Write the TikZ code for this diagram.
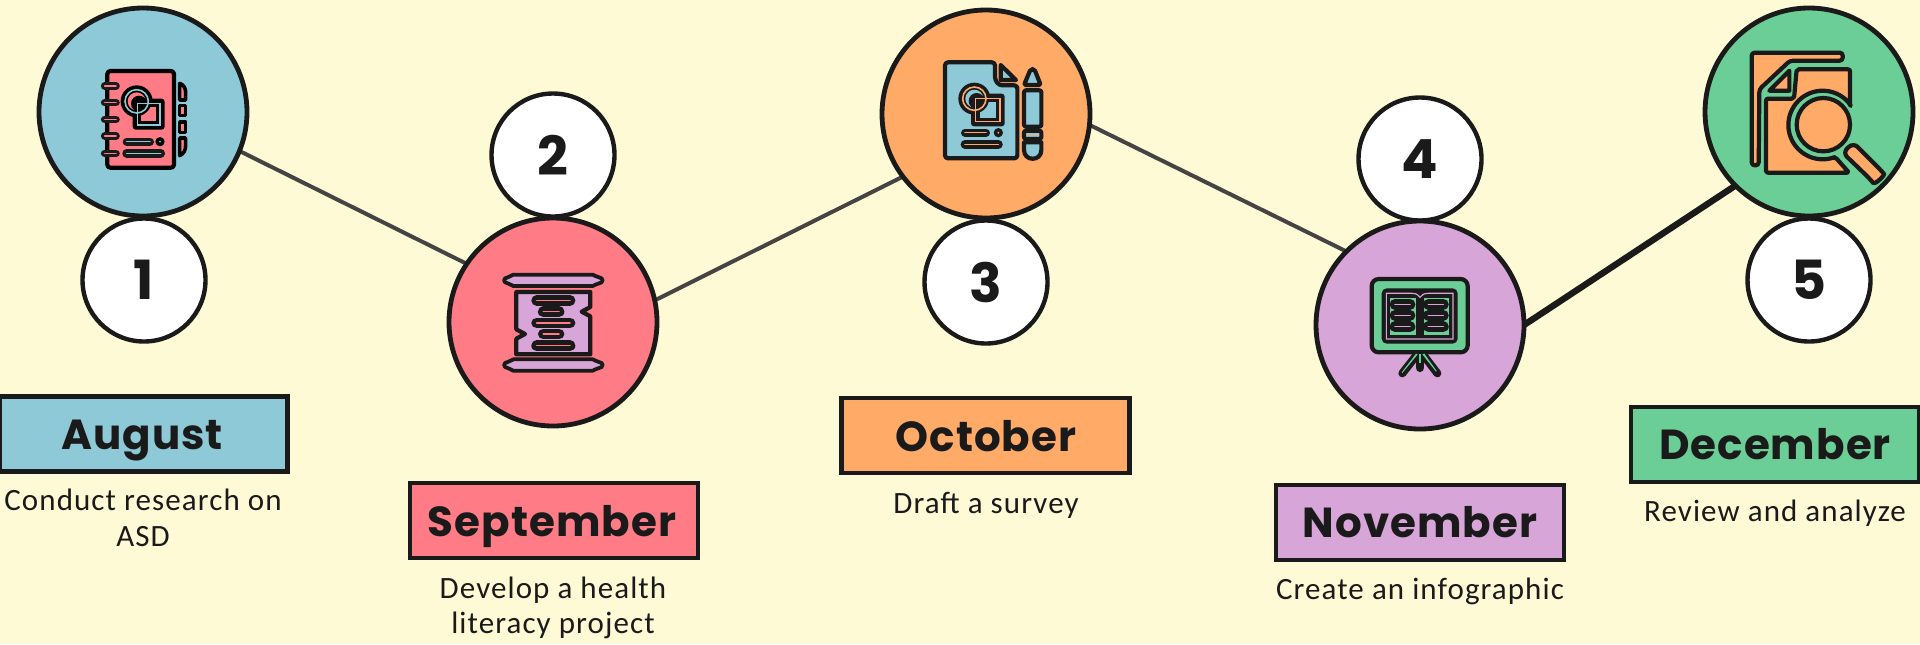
\documentclass[tikz,border=0pt]{standalone}
\usepackage{fontspec}
\setmainfont{Carlito}
\newfontfamily\headf[LetterSpace=2.5]{Poppins}
\newfontfamily\bodyf[LetterSpace=3.5]{Carlito}
\definecolor{bg}{HTML}{FFFAD6}
\definecolor{cblue}{HTML}{8DC9D6}
\definecolor{cred}{HTML}{FF7B85}
\definecolor{corange}{HTML}{FFAB67}
\definecolor{cpurple}{HTML}{D7A5D8}
\definecolor{cgreen}{HTML}{6ACE96}
\definecolor{ink}{HTML}{1A1A1A}
\definecolor{link}{HTML}{444444}
\newcommand\pill[5][5.4pt]{\draw[line width=#1,line cap=round,ink](#2,#4)--(#3,#4);\draw[line width=.8pt,line cap=round,#5](#2,#4)--(#3,#4);}
% circle + square motif: centre x, centre y, square left, top, right, bottom, ink, line colour, fill colour
\newcommand\motif[9]{%
 \fill[#7] (#1,#2) circle (48);
 \fill[#7,rounded corners=1.5pt] (#3-14,#4-14) rectangle (#5+14,#6+14);
 \fill[#9] (#3+12,#4+12) rectangle (#5-12,#6-12);
 \fill[#7] (#1,#2) circle (44);
 \fill[#9] (#1,#2) circle (27);
 \fill[#7] (#1+7,#2+7) circle (24);
 \draw[#8,line width=.8pt] (#1,#2) circle (35);
 \draw[#8,line width=.8pt] (#3,#4) rectangle (#5,#6);
}
\tikzset{
 bigc/.style={circle,draw=ink,line width=2.4pt,minimum size=104pt,inner sep=0pt,outer sep=0pt},
 numc/.style={circle,draw=ink,fill=white,line width=2.2pt,minimum size=61.5pt,inner sep=0pt,outer sep=0pt,font=\headf\bfseries\fontsize{27}{27}\selectfont,text=ink},
 monthbox/.style={draw=ink,line width=2.1pt,minimum width=144pt,minimum height=37.5pt,inner sep=0pt,outer sep=0pt},
 monthtext/.style={anchor=base,inner sep=0pt,font=\headf\bfseries\fontsize{21}{21}\selectfont,text=ink},
 bodytext/.style={anchor=base,inner sep=0pt,font=\bodyf\fontsize{15.5}{15.5}\selectfont,text=ink},
 linkthin/.style={draw=link,line width=2pt},
 linkthick/.style={draw=ink,line width=3.2pt},
 ik/.style={draw=ink,line width=2.1pt,line join=round},
 zoomed/.style={x=.16667pt,y=-.16667pt},
}
\begin{document}
\begin{tikzpicture}[x=.5pt,y=-.5pt]
\useasboundingbox (0,0) rectangle (1920,644);
\fill[bg] (0,0) rectangle (1920,644);
\node[bigc,fill=none,draw=none] (c1) at (143,112) {};
\node[bigc,fill=none,draw=none] (c2) at (553,322) {};
\node[bigc,fill=none,draw=none] (c3) at (986,114) {};
\node[bigc,fill=none,draw=none] (c4) at (1420,325) {};
\node[bigc,fill=none,draw=none] (c5) at (1809,112) {};
\draw[linkthin] (c1.-22.5) -- (c2.146.6);
\draw[linkthin] (c2.12) -- (c3.217.7);
\draw[linkthin] (c3.-6) -- (c4.135.8);
\draw[linkthick] (c4.0.5) -- (c5.225.8);
\node[numc] (n1) at (144,280) {1};
\node[numc] (n2) at (553,155) {2};
\node[numc] (n3) at (986,282) {3};
\node[numc] (n4) at (1420,159) {4};
\node[numc] (n5) at (1809,280) {5};
\node[bigc,fill=cblue] (d1) at (c1) {};
\node[bigc,fill=cred] (d2) at (c2) {};
\node[bigc,fill=corange] (d3) at (c3) {};
\node[bigc,fill=cpurple] (d4) at (c4) {};
\node[bigc,fill=cgreen] (d5) at (c5) {};
% month boxes
\node[monthbox,fill=cblue] (b1) at (143.5,434) {};
\node[monthbox,fill=cred] (b2) at (554,520.5) {};
\node[monthbox,fill=corange] (b3) at (985.5,435.5) {};
\node[monthbox,fill=cpurple] (b4) at (1420,522.5) {};
\node[monthbox,fill=cgreen] (b5) at (1775,444.5) {};
\node[monthtext] (m1) at (142,449) {August};
\node[monthtext] (m2) at (552,536) {September};
\node[monthtext] (m3) at (986,451) {October};
\node[monthtext] (m4) at (1420,537) {November};
\node[monthtext] (m5) at (1775,459) {December};
\node[bodytext] (t1a) at (143,510) {Conduct research on};
\node[bodytext] (t1b) at (143,546) {ASD};
\node[bodytext] (t2a) at (553,598) {Develop a health};
\node[bodytext] (t2b) at (553,633) {literacy project};
\node[bodytext] (t3) at (986,513) {Draft a survey};
\node[bodytext] (t4) at (1420,599) {Create an infographic};
\node[bodytext] (t5) at (1775,521) {Review and analyze};
% icon 1
\begin{scope}[shift={(30,0)},zoomed]
\draw[ik,draw=black,fill=cred,rounded corners=1.5pt] (232,213) rectangle (432,503);
\foreach \y in {258,308,358,408,460} {\pill[3.8pt]{224}{258}{\y}{cred}}
\draw[ik,draw=black,fill=cred,line width=1.8pt] (449,250) .. controls (462,255) and (467,265) .. (467,278) -- (467,300) -- (449,300) -- cycle;
\draw[ik,draw=black,fill=cred,line width=1.8pt] (449,316) rectangle (467,347);
\draw[ik,draw=black,fill=cred,line width=1.8pt] (449,366) rectangle (467,397);
\draw[ik,draw=black,fill=cred,line width=1.8pt] (449,414) -- (467,414) -- (467,436) .. controls (467,450) and (462,460) .. (449,467) -- cycle;
\motif{320}{304}{322}{310}{390}{375}{black}{cblue}{cred}
\pill[4pt]{290}{360}{425}{cblue}
\fill[black] (390,425) circle (14);
\fill[cblue] (390,425) circle (3);
\pill[4.4pt]{290}{392}{460}{cblue}
\end{scope}
% icon 2
\begin{scope}[shift={(445,215)},zoomed]
\foreach \y in {196,450} {
\draw[ik,fill=cpurple,line width=1.9pt] (205,\y-17) -- (443,\y-17) .. controls (450,\y-17) and (452,\y-9) .. (462,\y-9) .. controls (476,\y-8) and (476,\y+8) .. (462,\y+9) .. controls (452,\y+9) and (450,\y+17) .. (443,\y+17) -- (205,\y+17) .. controls (198,\y+17) and (196,\y+9) .. (188,\y+9) .. controls (174,\y+8) and (174,\y-8) .. (188,\y-9) .. controls (196,\y-9) and (198,\y-17) .. (205,\y-17) -- cycle;
}
\draw[ik,fill=cpurple] (214,231) -- (436,231) -- (436,276) -- (410,290) -- (436,304) -- (436,418) -- (214,418) -- (214,371) -- (240,357) -- (214,343) -- cycle;
\pill{275}{375}{256}{cred}
\pill{295}{342}{290}{cred}
\pill{275}{375}{324}{cred}
\pill{295}{342}{357}{cred}
\pill{275}{375}{392}{cred}
\end{scope}
% icon 3
\begin{scope}[shift={(880,0)},zoomed]
\draw[ik,fill=cblue,rounded corners=1.5pt] (195,187) -- (345,187) -- (345,240) -- (358,256) -- (412,256) -- (412,475) -- (195,475) -- cycle;
\draw[ik,fill=cblue] (362,195) -- (408,240) -- (362,240) -- cycle;
\motif{283}{296}{287}{295}{360}{365}{ink}{corange}{cblue}
\pill[4pt]{255}{318}{398}{corange}
\fill[ink] (355,398) circle (14);
\fill[corange] (355,398) circle (3);
\pill[4.4pt]{255}{355}{433}{corange}
\draw[ik,fill=cblue,rounded corners=1pt] (432,255) -- (482,255) -- (463,207) -- (452,207) -- cycle;
\draw[ik,fill=cblue,rounded corners=1pt] (432,271) rectangle (484,380);
\draw[ik,fill=cblue,rounded corners=1pt] (432,392) rectangle (484,417);
\draw[corange,line width=.6pt] (440,404.5) -- (476,404.5);
\draw[ik,fill=cblue] (432,427) -- (484,427) -- (484,450) .. controls (484,485) and (432,485) .. (432,450) -- cycle;
\end{scope}
% icon 4
\begin{scope}[shift={(1315,215)},zoomed]
\draw[ik,fill=cgreen,rounded corners=3.5pt] (170,192) rectangle (458,412);
\fill[ink,rounded corners=2.5pt] (200,220) rectangle (428,386);
\draw[cpurple,line width=.6pt] (214,235) -- (290,235) .. controls (305,235) and (310,240) .. (315,247) .. controls (320,240) and (325,235) .. (340,235) -- (414,235) -- (414,372) -- (214,372) -- cycle;
\fill[cgreen] (226,248) rectangle (304,360);
\fill[cgreen] (326,248) rectangle (402,360);
\pill{240}{285}{268}{cpurple}
\pill{240}{285}{301}{cpurple}
\pill{240}{285}{335}{cpurple}
\pill{340}{385}{268}{cpurple}
\pill{340}{385}{301}{cpurple}
\pill{340}{385}{335}{cpurple}
\draw[line width=4pt,ink,line cap=round] (305,420) -- (262,475);
\draw[line width=4pt,ink,line cap=round] (325,420) -- (367,475);
\draw[line width=4.4pt,ink,line cap=round] (315,420) -- (315,458);
\fill[cgreen] (303,416) -- (260,472) -- (262,474) -- (308,418) -- cycle;
\fill[cgreen] (328,416) -- (365,468) -- (363,470) -- (322,418) -- cycle;
\fill[cgreen] (313,416) rectangle (317,445);
\end{scope}
% icon 5
\begin{scope}[shift={(1700,0)},zoomed]
\draw[ik,fill=corange,rounded corners=1.5pt] (155,158) -- (428,158) -- (428,182) -- (270,182) -- (178,268) -- (176,496) -- (155,496) -- cycle;
\draw[ik,fill=corange,rounded corners=1pt] (198,296) -- (282,296) -- (290,208) -- (450,208) -- (450,313) -- plot[domain=-37.5:-291.3,samples=60] ({368+103*cos(\x)},{375+103*sin(\x)}) -- (447,518) -- (198,518) -- cycle;
\draw[ik,fill=corange] (208,272) -- (268,212) -- (268,272) -- cycle;
\draw[ik,fill=corange] (370,374) circle (80);
\draw[ik,fill=corange,rounded corners=3pt] (460,428) -- (540,508) .. controls (555,525) and (525,555) .. (508,535) -- (428,458) -- cycle;
\end{scope}
\end{tikzpicture}
\end{document}
